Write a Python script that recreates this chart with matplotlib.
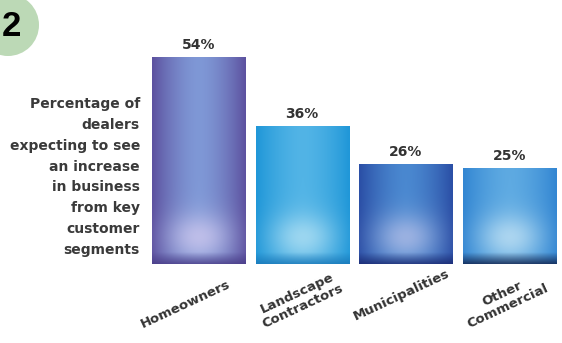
import numpy as np
import matplotlib
matplotlib.use("Agg")
import matplotlib.pyplot as plt
from matplotlib.patches import Circle

categories = ["Homeowners", "Landscape\nContractors", "Municipalities", "Other\nCommercial"]
values = [54, 36, 26, 25]
value_labels = ["54%", "36%", "26%", "25%"]
side_text = "Percentage of\ndealers\nexpecting to see\nan increase\nin business\nfrom key\ncustomer\nsegments"

# bar palettes: edge, center, glow, bottom
palettes = [
    ("#5d52a0", "#7f98d6", "#c8c4ec", "#4a3d88"),
    ("#2097d8", "#52b4e6", "#a8dcf2", "#1a78b8"),
    ("#2b4fa6", "#4a88d0", "#a8b8e4", "#1a2870"),
    ("#3386d2", "#5eaae2", "#b8dcf2", "#10204a"),
]

plt.rcParams['font.family'] = ["DejaVu Sans"]

W, H = 562, 343
fig = plt.figure(figsize=(W / 100, H / 100), dpi=100)
fig.patch.set_facecolor("white")
ax = fig.add_axes([152 / W, 79 / H, 404 / W, 230 / H])
ax.axis("off")

def hex2rgb(h):
    return np.array(matplotlib.colors.to_rgb(h))

x = np.arange(len(values))
bw = 0.9
bars = ax.bar(x, values, width=bw, facecolor="none", edgecolor="none")
for b, pal, val in zip(bars, palettes, values):
    edge, center, glow, bottom = [hex2rgb(c) for c in pal]
    nh, nw = 200, 60
    u = np.linspace(-1, 1, nw)[None, :]
    vpx = np.linspace(val, 0, nh)[:, None]
    t = np.clip(1 - np.abs(u) ** 1.6, 0, 1)[..., None]
    img = edge * (1 - t) + center * t
    img = np.broadcast_to(img, (nh, nw, 3)).copy()
    g = np.exp(-((u / 0.65) ** 2 + ((vpx - 7) / 6.0) ** 2))[..., None]
    img = img * (1 - 0.85 * g) + glow * 0.85 * g
    bb = np.clip(1 - vpx / 3.0, 0, 1)[..., None] * 0.8
    img = img * (1 - bb) + bottom * bb
    x0 = b.get_x()
    ax.imshow(img, extent=(x0, x0 + bw, 0, val), aspect="auto", zorder=2, interpolation="bilinear")
ax.set_xlim(-0.45, 3.45)
ax.set_ylim(0, 60)

for xi, v, lab in zip(x, values, value_labels):
    ax.text(xi, v + 1.4, lab, ha="center", va="bottom", fontsize=10, fontweight="bold", color="#333333")

label_pos = [(-0.13, -10.5), (-0.02, -9.3), (-0.04, -8.0), (-0.04, -9.3)]
for xi, (dx, y), lab in zip(x, label_pos, categories):
    ax.text(xi + dx, y, lab, ha="center", va="center", rotation=25,
            rotation_mode="anchor", fontsize=9.5, fontweight="bold", color="#333333",
            linespacing=1.05, clip_on=False)

fig.text(140 / W, 1 - 177 / H, side_text, ha="right", va="center", fontsize=10,
         fontweight="bold", color="#3a3a3a", linespacing=1.62)

circ = Circle((8 / 100, (H - 25) / 100), 31 / 100, transform=fig.dpi_scale_trans,
              facecolor="#bcd9b6", edgecolor="none")
fig.add_artist(circ)
fig.text(11 / W, 1 - 26 / H, "2", ha="center", va="center", fontsize=25,
         fontweight="bold", color="black", family="Liberation Sans")

fig.savefig("out.png", dpi=100)
